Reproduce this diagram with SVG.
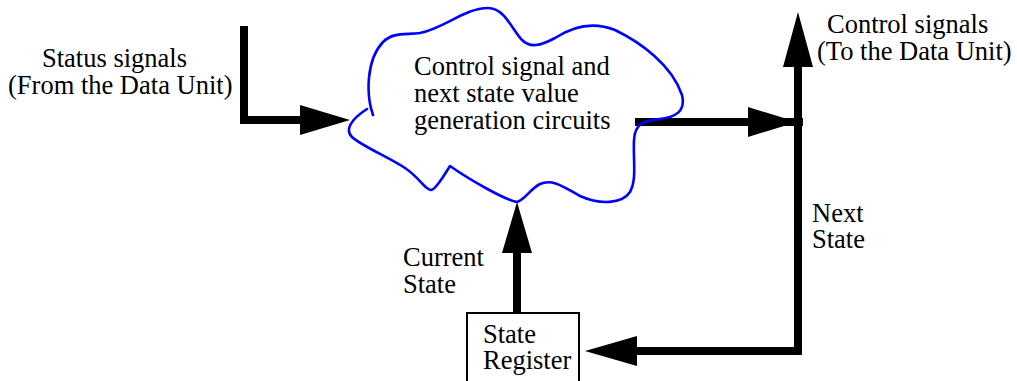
<svg xmlns="http://www.w3.org/2000/svg" width="1017" height="381" viewBox="0 0 1017 381">
<style>
text{font-family:"Liberation Serif","Times New Roman",serif;font-size:26.5px;fill:#000}
.wire{fill:none;stroke:#000;stroke-width:8;stroke-linejoin:miter;stroke-linecap:butt}
.head{fill:#000;stroke:none}
.cloud{fill:none;stroke:#0000ff;stroke-width:2.6;stroke-linecap:round;stroke-linejoin:round}
.box{fill:#fff;stroke:#000;stroke-width:2}
</style>
<rect width="1017" height="381" fill="#fff"/>
<g id="connectors">
  <path class="wire" d="M244,26 V120 H302"/>
  <polygon class="head" points="300,105 350,120 300,135"/>
  <path class="wire" d="M635,122 H803"/>
  <polygon class="head" points="748,107 797,122 748,137"/>
  <path class="wire" d="M798,66 V351 H635"/>
  <polygon class="head" points="783,67 798,12 813,67"/>
  <polygon class="head" points="637,336 585,351 637,366"/>
  <path class="wire" d="M517,313 V251"/>
  <polygon class="head" points="502,253 517,202 532,253"/>
</g>
<g id="status-label">
  <text x="42" y="67">Status signals</text>
  <text x="8" y="94">(From the Data Unit)</text>
</g>
<g id="control-label">
  <text x="827" y="33">Control signals</text>
  <text x="817" y="60">(To the Data Unit)</text>
</g>
<g id="logic">
  <path class="cloud" d="M373,115 C366,95 366,60 383,42 C393,32 405,35 420,33 C445,28 465,8 488,8 C505,8 512,30 522,40 C530,48 540,46 555,38 C575,25 595,22 615,30 C640,42 672,65 682,95 C686,112 675,117 660,119 C645,121 635,122 634,140 C633,160 637,180 630,192 C622,204 600,205 580,196 C565,188 553,178 540,184 C530,189 525,200 517,202 C505,200 470,180 450,166 C446,172 436,190 431,190 C425,190 420,178 405,168 C390,158 360,145 352,137 C345,130 350,120 367,109"/>
  <text x="414" y="75">Control signal and</text>
  <text x="414" y="102">next state value</text>
  <text x="414" y="129">generation circuits</text>
</g>
<g id="current-label">
  <text x="403" y="266">Current</text>
  <text x="403" y="293">State</text>
</g>
<g id="next-label">
  <text x="812" y="222">Next</text>
  <text x="812" y="248">State</text>
</g>
<g id="state-register">
  <rect class="box" x="467" y="313" width="112" height="80"/>
  <text x="483" y="343">State</text>
  <text x="483" y="369">Register</text>
</g>
</svg>
